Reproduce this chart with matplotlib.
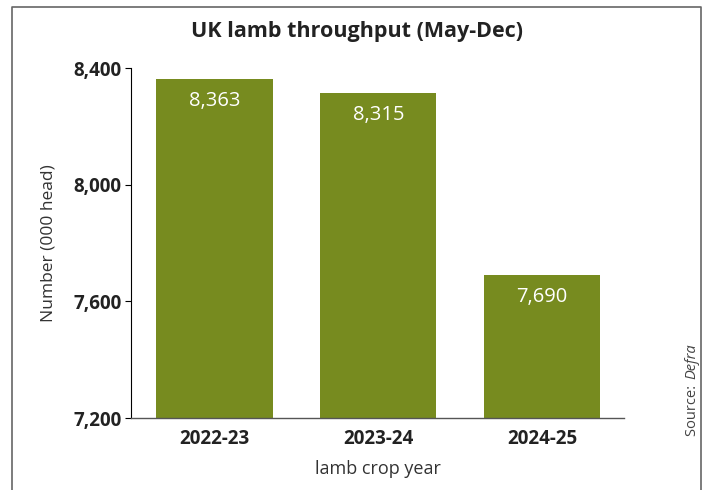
import matplotlib.pyplot as plt
from matplotlib.lines import Line2D

years = ['2022-23', '2023-24', '2024-25']
throughput = [8363, 8315, 7690]
yticks = [7200, 7600, 8000, 8400]

green = '#778B1F'
plt.rcParams['font.family'] = ['Open Sans', 'DejaVu Sans']

fig = plt.figure(figsize=(7.05, 4.9), dpi=100)
ax = fig.add_axes([131/705, 1 - 418/490, (624 - 131)/705, (418 - 68)/490])

x = range(len(years))
bars = ax.bar(x, throughput, width=0.71, color=green, zorder=2)
for b, v in zip(bars, throughput):
    ax.text(b.get_x() + b.get_width()/2, v - 76, f'{v:,}', ha='center', va='center',
            color='white', fontsize=14.5)

ax.set_xlim(-0.51, 2.5)
ax.set_ylim(7200, 8400)
ax.set_yticks(yticks)
ax.set_yticklabels([f'{t:,}' for t in yticks], fontweight='bold', fontsize=13.5, color='#222222')
ax.set_xticks(list(x))
ax.set_xticklabels(years, fontweight='bold', fontsize=13.5, color='#222222')
ax.tick_params(axis='x', length=0, pad=8)
ax.tick_params(axis='y', length=4, width=0.8, pad=3)
for s in ['top', 'right']:
    ax.spines[s].set_visible(False)
ax.spines['left'].set_linewidth(0.8)
ax.spines['bottom'].set_color('#555555')
ax.spines['bottom'].set_linewidth(1.0)

ax.set_ylabel('Number (000 head)', fontsize=12.5, color='#333333', labelpad=12)
ax.set_xlabel('lamb crop year', fontsize=13, color='#333333', labelpad=8)

fig.text(357/705, 1 - 32/490, 'UK lamb throughput (May-Dec)', ha='center', va='center',
         fontsize=15.5, fontweight='bold', color='#222222')

fig.text(692/705, 1 - 381/490, 'Source: ', rotation=90, ha='center', va='top',
         fontsize=10.5, color='#444444')
fig.text(692/705, 1 - 379/490, 'Defra', rotation=90, ha='center', va='bottom',
         fontsize=10.5, color='#444444', style='italic')

# frame around the graphic
fig.add_artist(Line2D([12/705, 12/705, 701/705, 701/705], [0, 1 - 7/490, 1 - 7/490, 0],
                      transform=fig.transFigure, color='#666666', linewidth=1.2))

fig.savefig('out.png', dpi=100)
